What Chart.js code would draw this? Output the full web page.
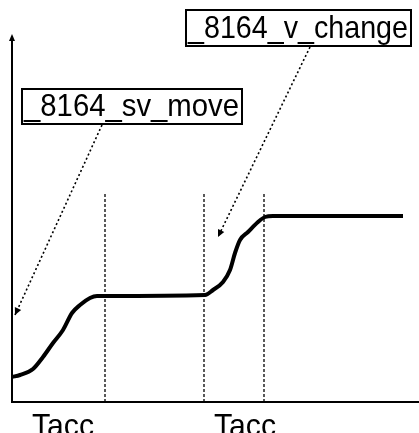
<!DOCTYPE html>
<html><head><meta charset="utf-8">
<script src="https://cdn.jsdelivr.net/npm/chart.js@4"></script>
<style>html,body{margin:0;padding:0;background:#fff;overflow:hidden}#wrap{width:419px;height:433px;position:relative}</style>
</head><body><div id="wrap"><canvas id="c" width="419" height="433"></canvas></div>
<script>
// velocity profile (time units, velocity units)
const timeValues = [0, 8, 21, 31, 41, 51, 60, 68, 78, 85, 95, 193, 201, 211, 218, 223, 228, 236, 246, 253, 261, 391];
const velocityValues = [25, 27, 33, 45, 59, 72, 89, 97, 104, 106, 106, 107, 112, 120, 132, 149, 162, 170, 180, 185, 186, 186];
// vertical markers (end of acceleration phases)
const markerTimes = [93, 192, 252];
const markerTop = 209;
// bottom labels
const phaseLabels = ['Tacc', 'Tacc'];
const phaseLabelTimes = [51, 233];
// call-out boxes
const calloutTexts = ['_8164_sv_move', '_8164_v_change'];
const calloutBoxX = [10, 174];
const calloutBoxX2 = [230, 399];
const calloutBoxYTop = [313, 392];
const calloutBoxYBottom = [278, 356];
const calloutFromX = [90, 298];
const calloutFromY = [277, 355];
const calloutToX = [3, 206];
const calloutToY = [87, 165];

const datasets = [{
  data: timeValues.map((t, i) => ({x: t, y: velocityValues[i]})),
  borderColor: '#000', borderWidth: 4, pointRadius: 0, showLine: true,
  cubicInterpolationMode: 'monotone',
  borderCapStyle: 'butt', borderJoinStyle: 'round'
}];
markerTimes.forEach(t => datasets.push({
  data: [{x: t, y: 0}, {x: t, y: markerTop}],
  borderColor: '#000', borderWidth: 1.3, borderDash: [3, 2], pointRadius: 0, showLine: true
}));

const deco = {
  id: 'deco',
  afterDraw(chart) {
    const ctx = chart.ctx, xs = chart.scales.x, ys = chart.scales.y, a = chart.chartArea;
    ctx.save();
    ctx.fillStyle = '#000'; ctx.strokeStyle = '#000';
    // axes
    ctx.lineWidth = 2;
    ctx.beginPath();
    ctx.moveTo(a.left, a.bottom); ctx.lineTo(a.left, a.top + 3);
    ctx.moveTo(a.left - 1, a.bottom); ctx.lineTo(a.right, a.bottom);
    ctx.stroke();
    ctx.beginPath();
    ctx.moveTo(a.left, a.top - 1); ctx.lineTo(a.left - 3, a.top + 6); ctx.lineTo(a.left + 3, a.top + 6); ctx.closePath();
    ctx.fill();
    // callouts
    ctx.font = '32px "Liberation Sans", Arial, sans-serif';
    ctx.textBaseline = 'alphabetic';
    calloutTexts.forEach((txt, i) => {
      const x1 = xs.getPixelForValue(calloutBoxX[i]), x2 = xs.getPixelForValue(calloutBoxX2[i]);
      const y1 = ys.getPixelForValue(calloutBoxYTop[i]), y2 = ys.getPixelForValue(calloutBoxYBottom[i]);
      ctx.fillStyle = '#fff'; ctx.fillRect(x1, y1, x2 - x1, y2 - y1);
      ctx.lineWidth = 2; ctx.setLineDash([]);
      ctx.strokeRect(x1, y1, x2 - x1, y2 - y1);
      ctx.fillStyle = '#000';
      ctx.fillText(txt, x1 + 2, y2 - 8, x2 - x1 - 5);
      // leader
      const fx = xs.getPixelForValue(calloutFromX[i]), fy = ys.getPixelForValue(calloutFromY[i]);
      const tx = xs.getPixelForValue(calloutToX[i]), ty = ys.getPixelForValue(calloutToY[i]);
      ctx.lineWidth = 1.6; ctx.setLineDash([2, 2.5]);
      ctx.beginPath(); ctx.moveTo(fx, fy); ctx.lineTo(tx, ty); ctx.stroke();
      ctx.setLineDash([]);
      const ang = Math.atan2(ty - fy, tx - fx), L = 8, W = 0.45;
      ctx.beginPath();
      ctx.moveTo(tx, ty);
      ctx.lineTo(tx - L * Math.cos(ang - W), ty - L * Math.sin(ang - W));
      ctx.lineTo(tx - L * Math.cos(ang + W), ty - L * Math.sin(ang + W));
      ctx.closePath(); ctx.fill();
    });
    // bottom labels
    ctx.textAlign = 'center';
    phaseLabels.forEach((lab, i) => {
      ctx.fillText(lab, xs.getPixelForValue(phaseLabelTimes[i]), a.bottom + 34, 62);
    });
    ctx.restore();
  }
};

new Chart(document.getElementById('c'), {
  type: 'scatter',
  data: {datasets},
  options: {
    responsive: false, animation: false, devicePixelRatio: 1,
    layout: {padding: {left: 12, right: 0, top: 35, bottom: 31}},
    plugins: {legend: {display: false}, tooltip: {enabled: false}},
    scales: {
      x: {type: 'linear', min: 0, max: 407, display: false},
      y: {type: 'linear', min: 0, max: 367, display: false}
    }
  },
  plugins: [deco]
});
</script>
</body></html>
